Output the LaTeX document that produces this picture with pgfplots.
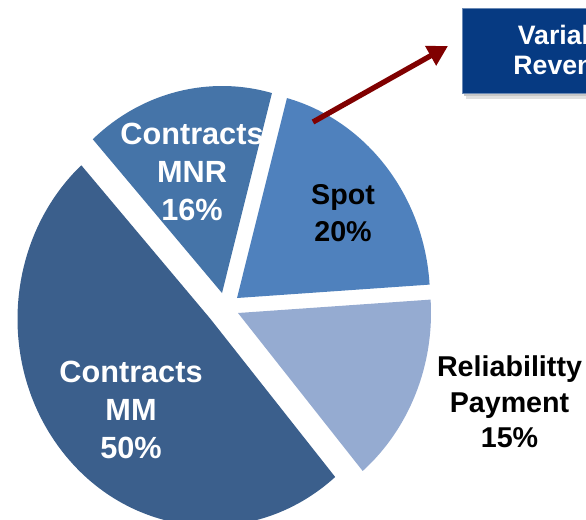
\documentclass[border=0pt]{standalone}
\usepackage{pgfplots}
\pgfplotsset{compat=1.18}
\usepackage{pgfplotstable}
\usetikzlibrary{arrows.meta}
\usepackage{fontspec}
\setmainfont{Liberation Sans}
\definecolor{cMM}{RGB}{59,95,140}
\definecolor{cMNR}{RGB}{69,116,168}
\definecolor{cSpot}{RGB}{79,129,189}
\definecolor{cRel}{RGB}{149,171,209}
\definecolor{cArrow}{RGB}{128,0,0}
\definecolor{cBox}{RGB}{6,58,130}

% slice values (percent) and the apex of each exploded slice (pixel layout)
\pgfplotstableread{
slice value cx cy
Spot 20 237 298
Rel 15 238 313
MM 50 210.5 319
MNR 16 222 293
}\piedata

\pgfplotstablegetelem{0}{value}\of\piedata \pgfmathsetmacro\vA{\pgfplotsretval}
\pgfplotstablegetelem{1}{value}\of\piedata \pgfmathsetmacro\vB{\pgfplotsretval}
\pgfplotstablegetelem{2}{value}\of\piedata \pgfmathsetmacro\vC{\pgfplotsretval}
\pgfplotstablegetelem{3}{value}\of\piedata \pgfmathsetmacro\vD{\pgfplotsretval}
\pgfplotstablegetelem{0}{cx}\of\piedata \pgfmathsetmacro\xA{\pgfplotsretval}
\pgfplotstablegetelem{1}{cx}\of\piedata \pgfmathsetmacro\xB{\pgfplotsretval}
\pgfplotstablegetelem{2}{cx}\of\piedata \pgfmathsetmacro\xC{\pgfplotsretval}
\pgfplotstablegetelem{3}{cx}\of\piedata \pgfmathsetmacro\xD{\pgfplotsretval}
\pgfplotstablegetelem{0}{cy}\of\piedata \pgfmathsetmacro\yA{\pgfplotsretval}
\pgfplotstablegetelem{1}{cy}\of\piedata \pgfmathsetmacro\yB{\pgfplotsretval}
\pgfplotstablegetelem{2}{cy}\of\piedata \pgfmathsetmacro\yC{\pgfplotsretval}
\pgfplotstablegetelem{3}{cy}\of\piedata \pgfmathsetmacro\yD{\pgfplotsretval}
\pgfmathsetmacro\tot{\vA+\vB+\vC+\vD}
\pgfmathsetmacro\unit{360/\tot}
\pgfmathsetmacro\aA{75}
\pgfmathsetmacro\aB{\aA-\unit*\vA}
\pgfmathsetmacro\aC{\aB-\unit*\vB}
\pgfmathsetmacro\aD{\aC-\unit*\vC}
\pgfmathsetmacro\aE{\aD-\unit*\vD}
\def\Rx{144.75pt}
\def\Ry{155.25pt}

\begin{document}
\begin{tikzpicture}
\begin{axis}[
  at={(0,0)}, anchor=south west,
  x=0.75pt, y=0.75pt,
  xmin=0, xmax=586, ymin=0, ymax=519,
  y dir=reverse,
  hide axis, clip=true, clip mode=global,
]
% slices
\fill[cSpot] (axis cs:\xA,\yA) -- ++({cos(\aA)*\Rx},{sin(\aA)*\Ry}) arc[start angle=\aA, end angle=\aB, x radius=\Rx, y radius=\Ry] -- cycle;
\fill[cRel] (axis cs:\xB,\yB) -- ++({cos(\aB)*\Rx},{sin(\aB)*\Ry}) arc[start angle=\aB, end angle=\aC, x radius=\Rx, y radius=\Ry] -- cycle;
\fill[cMM] (axis cs:\xC,\yC) -- ++({cos(\aC)*\Rx},{sin(\aC)*\Ry}) arc[start angle=\aC, end angle=\aD, x radius=\Rx, y radius=\Ry] -- cycle;
\fill[cMNR] (axis cs:\xD,\yD) -- ++({cos(\aD)*\Rx},{sin(\aD)*\Ry}) arc[start angle=\aD, end angle=\aE, x radius=\Rx, y radius=\Ry] -- cycle;

% labels
\node[text=white, font=\fontsize{23}{28.5}\selectfont\bfseries, align=center] at (axis cs:192,172) {Contracts\\MNR\\16\%};
\node[text=black, font=\fontsize{21.5}{27.5}\selectfont\bfseries, align=center] at (axis cs:343,213) {Spot\\20\%};
\node[text=white, font=\fontsize{23}{28.5}\selectfont\bfseries, align=center] at (axis cs:131,410) {Contracts\\MM\\50\%};
\node[text=black, font=\fontsize{21.5}{26.5}\selectfont\bfseries, align=center] at (axis cs:509.5,402) {Reliabilitty\\Payment\\15\%};

% callout box
\fill[black!12] (axis cs:466,13) rectangle (axis cs:690,99);
\fill[black!22] (axis cs:464,11) rectangle (axis cs:688,96);
\fill[cBox, draw=cBox!60!white, line width=0.6pt] (axis cs:462,8) rectangle (axis cs:686,93);
\node[text=white, font=\fontsize{20}{22.5}\selectfont\bfseries, align=center] at (axis cs:569,50) {Variable\\Revenue};

% arrow
\draw[cArrow, line width=4pt, -{Triangle[length=15pt,width=16pt]}] (axis cs:313,122) -- (axis cs:448,46);
\end{axis}
\pgfresetboundingbox
\useasboundingbox (0,0) rectangle (439.5pt,389.25pt);
\end{tikzpicture}
\end{document}
